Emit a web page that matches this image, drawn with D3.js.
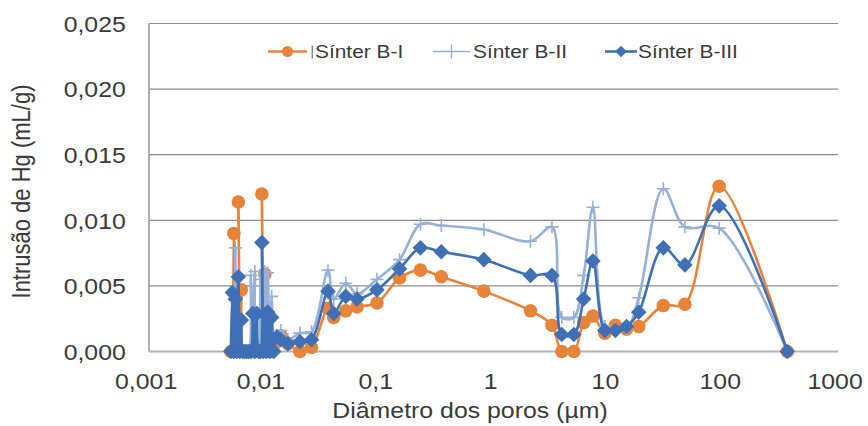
<!DOCTYPE html>
<html>
<head>
<meta charset="utf-8">
<script src="https://cdn.jsdelivr.net/npm/d3@7"></script>
<style>
  html, body { margin: 0; padding: 0; background: #ffffff; }
  svg { display: block; }
  text { font-family: "Liberation Sans", Arial, sans-serif; fill: #3a3a3a; }
</style>
</head>
<body>
<svg id="chart" width="868" height="426"></svg>
<script>
// Pore diameters (µm), shared by the three samples
const diameters = [
  0.00516, 0.00532, 0.00548, 0.00565, 0.00582, 0.00600, 0.00618, 0.00637, 0.00657,
  0.00684, 0.00711, 0.00741, 0.00771, 0.00802, 0.00835, 0.00869, 0.00905, 0.00932,
  0.00961, 0.00990, 0.0102, 0.0105, 0.0108, 0.0113, 0.0117, 0.0122, 0.0130,
  0.0141, 0.0162, 0.0206, 0.0260,
  0.0362, 0.0406, 0.0517, 0.0648, 0.0966, 0.152, 0.231, 0.351, 0.824, 2.10,
  3.23, 3.93, 5.01, 6.10, 7.34, 9.33, 11.5, 14.4, 18.4, 30.1, 46.4, 92.3, 362
];

// Mercury intrusion (mL/g)
const sinterBI = [
  0, 0, 0.0090, 0, 0, 0.0114, 0, 0.0047, 0,
  0, 0, 0, 0, 0, 0, 0, 0, 0,
  0.0120, 0, 0.0059, 0, 0, 0, 0, 0.0005, 0.0009,
  0.0012, 0.0006, 0, 0.0003,
  0.0033, 0.0026, 0.0031, 0.0034, 0.0037, 0.0056, 0.0062, 0.0057, 0.0046, 0.0031,
  0.0020, 0, 0, 0.0022, 0.0027, 0.0014, 0.0020, 0.0017, 0.0019, 0.0035, 0.0036, 0.0126, 0
];
const sinterBII = [
  0, 0, 0, 0.0079, 0, 0, 0, 0, 0,
  0, 0, 0, 0.0058, 0, 0.0061, 0, 0, 0.0055,
  0, 0, 0.0061, 0, 0.0060, 0, 0.0042, 0, 0.0012,
  0.0016, 0.0009, 0.0014, 0.0015,
  0.0062, 0.0040, 0.0052, 0.0044, 0.0055, 0.0070, 0.0097, 0.0096, 0.0093, 0.0084,
  0.0095, 0.0026, 0.0026, 0.0058, 0.0110, 0.0019, 0.0018, 0.0017, 0.0041, 0.0124, 0.0095, 0.0094, 0
];
const sinterBIII = [
  0, 0.0045, 0, 0.0040, 0, 0.0057, 0, 0.0024, 0,
  0, 0, 0, 0, 0.0029, 0, 0.0029, 0, 0,
  0.0083, 0, 0.0028, 0, 0.0030, 0, 0.0026, 0, 0.0011,
  0.0009, 0.0006, 0.00075, 0.0009,
  0.0046, 0.0029, 0.0042, 0.0040, 0.0047, 0.0063, 0.0079, 0.0076, 0.0070, 0.0058,
  0.0058, 0.0013, 0.0013, 0.0040, 0.0069, 0.0016, 0.0016, 0.0019, 0.0030, 0.0079, 0.0066, 0.0111, 0
];

const seriesNames = ["Sínter B-I", "Sínter B-II", "Sínter B-III"];

const xTickValues = [0.001, 0.01, 0.1, 1, 10, 100, 1000];
const xTickLabels = ["0,001", "0,01", "0,1", "1", "10", "100", "1000"];
const yTickValues = [0, 0.005, 0.010, 0.015, 0.020, 0.025];
const yTickLabels = ["0,000", "0,005", "0,010", "0,015", "0,020", "0,025"];

const xTitle = "Diâmetro dos poros (µm)";
const yTitle = "Intrusão de Hg (mL/g)";

// Layout
const plot = { left: 149, right: 838, top: 23.5, bottom: 351.5 };
const stretch = 1.13; // horizontal widening of the lettering

const svg = d3.select("#chart");

const x = d3.scaleLog().domain([0.001, 1000]).range([plot.left, plot.right]);
const y = d3.scaleLinear().domain([0, 0.025]).range([plot.bottom, plot.top]);

// Gridlines
svg.append("g")
  .selectAll("line")
  .data(yTickValues.filter(d => d > 0))
  .join("line")
  .attr("x1", plot.left).attr("x2", plot.right)
  .attr("y1", d => y(d)).attr("y2", d => y(d))
  .attr("stroke", "#8c8c8c").attr("stroke-width", 1.2);

// Value axis line and category baseline
svg.append("line")
  .attr("x1", plot.left).attr("x2", plot.left)
  .attr("y1", plot.top).attr("y2", plot.bottom)
  .attr("stroke", "#a6a6a6").attr("stroke-width", 1.8);
svg.append("line")
  .attr("x1", plot.left).attr("x2", plot.right)
  .attr("y1", y(0)).attr("y2", y(0))
  .attr("stroke", "#b4b4b4").attr("stroke-width", 2);

// Axes (labels only)
const xAxis = svg.append("g")
  .attr("transform", `translate(0,${plot.bottom})`)
  .call(d3.axisBottom(x).tickValues(xTickValues)
    .tickFormat((d, i) => xTickLabels[i]).tickSize(0).tickPadding(0));
xAxis.select(".domain").remove();
xAxis.selectAll("text")
  .attr("y", 38).attr("dy", null)
  .attr("x", -3)
  .attr("font-size", 22)
  .attr("transform", `scale(${stretch},1)`)
  .style("fill", "#3a3a3a");

const yAxis = svg.append("g")
  .attr("transform", `translate(${plot.left},0)`)
  .call(d3.axisLeft(y).tickValues(yTickValues)
    .tickFormat((d, i) => yTickLabels[i]).tickSize(0).tickPadding(0));
yAxis.select(".domain").remove();
yAxis.selectAll("text")
  .attr("x", -20.5).attr("dy", "0.35em")
  .attr("font-size", 22)
  .attr("transform", `scale(${stretch},1)`)
  .style("fill", "#3a3a3a");

// Axis titles
svg.append("text")
  .attr("transform", `translate(470,418) scale(${stretch},1)`)
  .attr("text-anchor", "middle")
  .attr("font-size", 22)
  .text(xTitle);
svg.append("text")
  .attr("transform", `translate(30,191.5) scale(${stretch},1) rotate(-90)`)
  .attr("text-anchor", "middle")
  .attr("font-size", 22)
  .text(yTitle);

// Series
const colors = ["#e8843a", "#97b0d8", "#3f70b6"];
const seriesValues = [sinterBI, sinterBII, sinterBIII];

svg.append("defs").append("clipPath").attr("id", "plotClip")
  .append("rect")
  .attr("x", plot.left).attr("y", plot.top - 5)
  .attr("width", plot.right - plot.left + 5)
  .attr("height", plot.bottom - plot.top + 8);

const line = d3.line()
  .x(d => x(d[0]))
  .y(d => y(d[1]))
  .curve(d3.curveCatmullRom.alpha(0.5));

const circleSym = d3.symbol().type(d3.symbolCircle).size(145);
const diamondPath = r => `M0,${-r}L${r},0L0,${r}L${-r},0Z`;

function drawMarker(sel, kind, color) {
  if (kind === 0) {
    sel.append("path").attr("d", circleSym()).attr("fill", color);
  } else if (kind === 1) {
    sel.append("path").attr("d", "M-6.5,0H6.5M0,-6.5V6.5")
      .attr("stroke", color).attr("stroke-width", 1.6).attr("fill", "none");
  } else {
    sel.append("path").attr("d", diamondPath(7.8)).attr("fill", color);
  }
}

seriesValues.forEach((vals, si) => {
  const pts = diameters.map((d, i) => [d, vals[i]]);
  const g = svg.append("g");
  g.append("path")
    .datum(pts)
    .attr("d", line)
    .attr("fill", "none")
    .attr("stroke", colors[si])
    .attr("stroke-width", 2.6)
    .attr("stroke-linejoin", "round")
    .attr("clip-path", "url(#plotClip)");
  g.selectAll("g.mk")
    .data(pts)
    .join("g")
    .attr("class", "mk")
    .attr("transform", d => `translate(${x(d[0])},${y(d[1])})`)
    .each(function () { drawMarker(d3.select(this), si, colors[si]); });
});

// Legend
const legendItems = [
  { x1: 268, x2: 307, tx: 315 },
  { x1: 433, x2: 470, tx: 473 },
  { x1: 605, x2: 637, tx: 638 }
];
const legendY = 51.5;
const legend = svg.append("g");
legendItems.forEach((it, i) => {
  legend.append("line")
    .attr("x1", it.x1).attr("x2", it.x2)
    .attr("y1", legendY).attr("y2", legendY)
    .attr("stroke", colors[i]).attr("stroke-width", i === 1 ? 1.6 : 2.6);
  const mk = legend.append("g")
    .attr("transform", `translate(${(it.x1 + it.x2) / 2},${legendY})`);
  if (i === 0) mk.append("path").attr("d", d3.symbol().type(d3.symbolCircle).size(95)()).attr("fill", colors[0]);
  if (i === 1) mk.append("path").attr("d", "M0,-7V7").attr("stroke", colors[1]).attr("stroke-width", 1.4);
  if (i === 2) mk.append("path").attr("d", diamondPath(5.8)).attr("fill", colors[2]);
  legend.append("text")
    .attr("transform", `translate(${it.tx},${legendY + 6.5}) scale(${stretch},1)`)
    .attr("font-size", 18.5)
    .text(seriesNames[i]);
});
// thin caret mark ahead of the first legend label
legend.append("line")
  .attr("x1", 312.2).attr("x2", 312.2)
  .attr("y1", legendY - 6).attr("y2", legendY + 7)
  .attr("stroke", "#555").attr("stroke-width", 1);
</script>
</body>
</html>
